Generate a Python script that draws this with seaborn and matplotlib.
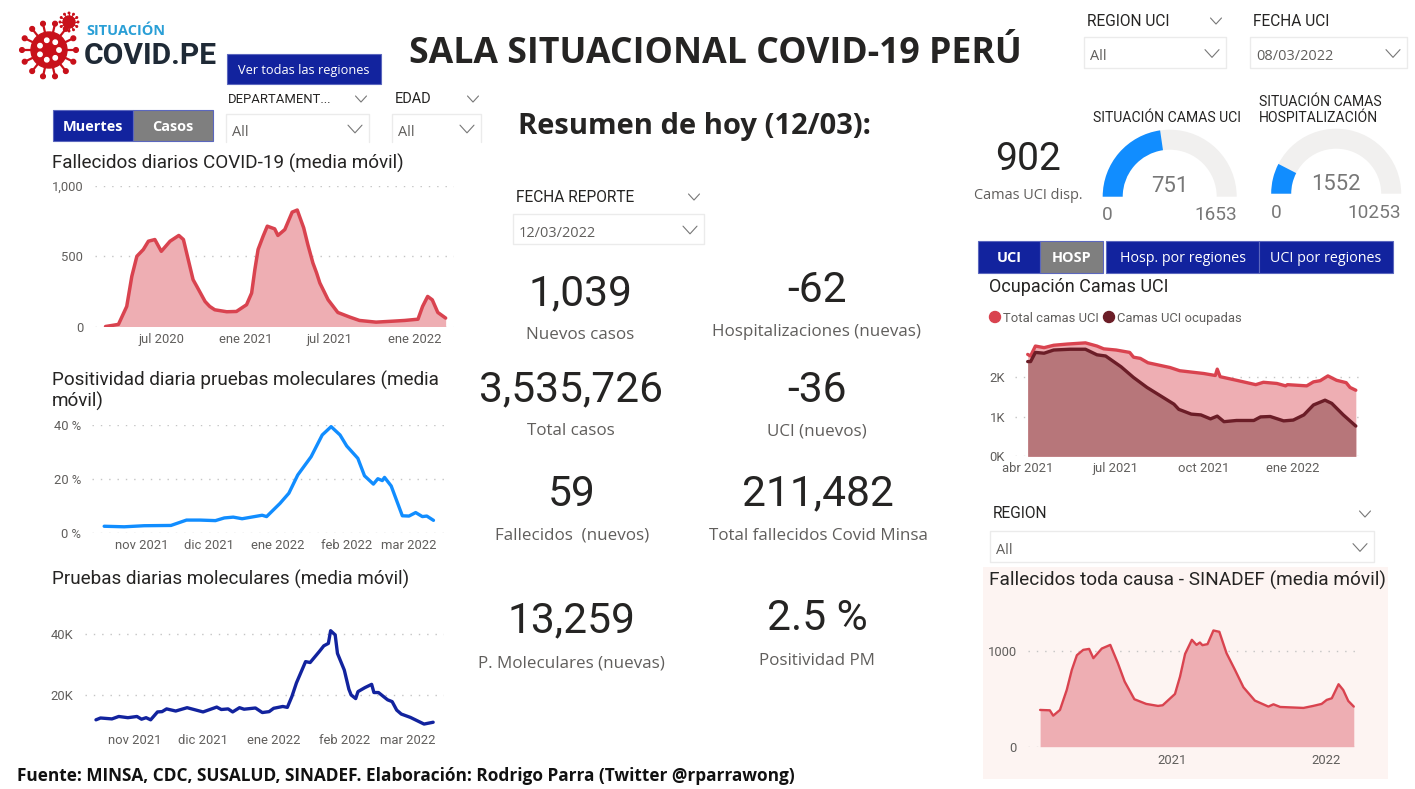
import matplotlib
matplotlib.use("Agg")
import matplotlib.pyplot as plt
from matplotlib.patches import Circle, Rectangle, Wedge
import numpy as np
import pandas as pd
import seaborn as sns

W, H = 1415, 789
NAVY = "#12239E"
GRAY_BTN = "#7F7F7F"
BLUE = "#118DFF"
RED = "#D9434F"
RED_FILL = "#EEAEB3"
DARK_RED = "#6B1D27"
INK = "#252423"
SOFT = "#605E5C"
DIN = "Roboto"
SEGOE = "Open Sans"
TEXT_DY = 2  # va="center" sits a little high against the reference

# Fallecidos diarios COVID-19
deaths_dates = ["2020-03-02", "2020-03-30", "2020-04-17", "2020-04-28", "2020-05-09", "2020-05-23", "2020-06-03",
                "2020-06-17", "2020-07-01", "2020-07-20", "2020-08-08", "2020-08-18", "2020-09-01", "2020-09-08",
                "2020-09-16", "2020-10-04", "2020-10-14", "2020-10-25", "2020-11-20", "2020-12-11", "2021-01-02",
                "2021-01-13", "2021-01-20", "2021-01-27", "2021-02-07", "2021-02-16", "2021-03-04", "2021-03-11",
                "2021-03-26", "2021-04-11", "2021-04-22", "2021-05-06", "2021-05-15", "2021-05-26", "2021-06-03",
                "2021-06-10", "2021-06-28", "2021-07-19", "2021-08-14", "2021-09-04", "2021-10-10", "2021-11-16",
                "2021-12-11", "2022-01-09", "2022-01-19", "2022-01-30", "2022-02-09", "2022-02-21", "2022-03-10"]
deaths_values = [0, 15, 143, 357, 500, 548, 607, 619, 535, 607, 648, 619, 428, 333, 286, 178, 143, 119, 105, 107,
                 155, 238, 405, 548, 643, 714, 695, 648, 690, 814, 829, 702, 583, 452, 381, 310, 190, 100, 67, 43,
                 31, 38, 43, 52, 143, 214, 190, 100, 60]

# Positividad diaria pruebas moleculares
pos_dates = ["2021-10-15", "2021-10-24", "2021-11-02", "2021-11-14", "2021-11-21", "2021-11-27", "2021-12-04",
             "2021-12-08", "2021-12-12", "2021-12-16", "2021-12-25", "2021-12-27", "2022-01-02", "2022-01-06",
             "2022-01-10", "2022-01-16", "2022-01-21", "2022-01-25", "2022-01-29", "2022-02-01", "2022-02-06",
             "2022-02-09", "2022-02-13", "2022-02-15", "2022-02-17", "2022-02-18", "2022-02-21", "2022-02-26",
             "2022-03-01", "2022-03-04", "2022-03-07", "2022-03-09", "2022-03-12"]
pos_values = [2.4, 2.2, 2.6, 2.7, 4.7, 4.7, 4.5, 5.5, 5.8, 5.2, 6.5, 6.0, 10.9, 14.7, 21.5, 28.3, 36.4, 39.5, 36.4,
              32.3, 27.7, 21.2, 18.1, 20.1, 19.4, 20.6, 17.4, 6.3, 6.2, 7.5, 6.0, 6.2, 4.6]

# Pruebas diarias moleculares, en miles
tests_dates = ["2021-10-15", "2021-10-17", "2021-10-22", "2021-10-25", "2021-10-29", "2021-11-02", "2021-11-04",
               "2021-11-06", "2021-11-08", "2021-11-11", "2021-11-13", "2021-11-15", "2021-11-19", "2021-11-24",
               "2021-12-01", "2021-12-07", "2021-12-09", "2021-12-12", "2021-12-14", "2021-12-17", "2021-12-19",
               "2021-12-24", "2021-12-27", "2021-12-30", "2022-01-01", "2022-01-05", "2022-01-07", "2022-01-09",
               "2022-01-11", "2022-01-15", "2022-01-17", "2022-01-21", "2022-01-23", "2022-01-25", "2022-01-26",
               "2022-01-28", "2022-01-29", "2022-02-01", "2022-02-03", "2022-02-04", "2022-02-06", "2022-02-07",
               "2022-02-10", "2022-02-13", "2022-02-14", "2022-02-16", "2022-02-20", "2022-02-22", "2022-02-24",
               "2022-02-26", "2022-03-02", "2022-03-05", "2022-03-08", "2022-03-12"]
tests_values = [11.8, 12.4, 12.1, 12.9, 12.5, 12.9, 12.0, 12.5, 11.8, 14.4, 14.5, 15.4, 14.7, 15.8, 14.4, 16.0, 15.2,
                15.4, 14.4, 15.8, 15.3, 15.7, 14.2, 14.5, 15.6, 16.2, 15.9, 19.5, 24.0, 31.0, 30.7, 34.3, 36.2, 37.0,
                41.2, 39.8, 33.7, 28.2, 21.9, 20.0, 18.8, 21.1, 22.4, 23.5, 20.8, 20.8, 18.4, 17.8, 15.0, 13.7, 12.6,
                11.5, 10.4, 11.0]

# Ocupacion camas UCI, en miles
uci_total_dates = ["2021-04-01", "2021-04-04", "2021-04-09", "2021-04-18", "2021-04-28", "2021-05-12", "2021-05-31",
                   "2021-06-12", "2021-06-19", "2021-07-02", "2021-07-16", "2021-07-20", "2021-07-27", "2021-08-04",
                   "2021-08-27", "2021-09-06", "2021-10-01", "2021-10-13", "2021-10-15", "2021-10-18", "2021-11-04",
                   "2021-11-24", "2021-12-02", "2021-12-16", "2021-12-25", "2021-12-27", "2022-01-16", "2022-01-23",
                   "2022-01-30", "2022-02-07", "2022-02-16", "2022-02-26", "2022-03-02", "2022-03-08"]
uci_total_values = [2.56, 2.52, 2.77, 2.73, 2.79, 2.82, 2.85, 2.77, 2.70, 2.67, 2.61, 2.49, 2.46, 2.35, 2.23, 2.15,
                    2.08, 2.03, 2.19, 2.00, 1.91, 1.80, 1.86, 1.83, 1.77, 1.80, 1.77, 1.87, 1.90, 2.02, 1.91, 1.85,
                    1.73, 1.66]
uci_used_dates = ["2021-04-01", "2021-04-04", "2021-04-09", "2021-04-18", "2021-04-28", "2021-05-15", "2021-05-31",
                  "2021-06-12", "2021-06-21", "2021-07-07", "2021-07-20", "2021-08-03", "2021-08-17", "2021-08-31",
                  "2021-09-05", "2021-09-18", "2021-09-28", "2021-10-08", "2021-10-15", "2021-10-22", "2021-11-04",
                  "2021-11-22", "2021-11-29", "2021-12-09", "2021-12-23", "2022-01-02", "2022-01-13", "2022-01-23",
                  "2022-02-04", "2022-02-11", "2022-02-23", "2022-03-08"]
uci_used_values = [2.38, 2.38, 2.61, 2.59, 2.67, 2.69, 2.69, 2.55, 2.52, 2.25, 1.98, 1.73, 1.52, 1.31, 1.18, 1.06,
                   1.04, 0.94, 1.01, 0.87, 0.90, 0.90, 0.99, 1.00, 0.89, 0.91, 1.04, 1.29, 1.41, 1.33, 1.04, 0.76]

# Fallecidos toda causa - SINADEF
sinadef_dates = ["2020-02-24", "2020-03-18", "2020-03-26", "2020-04-11", "2020-04-27", "2020-05-09", "2020-05-21",
                 "2020-06-05", "2020-06-19", "2020-06-29", "2020-07-19", "2020-08-08", "2020-08-26", "2020-09-11",
                 "2020-10-04", "2020-11-01", "2020-11-29", "2020-12-10", "2021-01-08", "2021-01-20", "2021-02-01",
                 "2021-02-17", "2021-02-28", "2021-03-08", "2021-03-14", "2021-03-26", "2021-04-09", "2021-04-23",
                 "2021-05-10", "2021-05-30", "2021-06-19", "2021-07-16", "2021-08-17", "2021-08-29", "2021-09-14",
                 "2021-11-08", "2021-12-01", "2021-12-21", "2022-01-02", "2022-01-14", "2022-01-30", "2022-02-10",
                 "2022-02-22", "2022-03-07"]
sinadef_values = [385, 381, 325, 385, 594, 804, 958, 1014, 1024, 927, 1028, 1066, 874, 682, 497, 448, 427, 434, 552,
                  734, 972, 1119, 1066, 1091, 1063, 1074, 1217, 1203, 979, 804, 622, 483, 420, 444, 416, 406, 427,
                  448, 490, 507, 654, 594, 479, 420]

# Indicadores del centro: valor, etiqueta
kpi_values = ["1,039", "-62", "3,535,726", "-36", "59", "211,482", "13,259", "2.5 %"]
kpi_labels = ["Nuevos casos", "Hospitalizaciones (nuevas)", "Total casos", "UCI (nuevos)", "Fallecidos  (nuevos)",
              "Total fallecidos Covid Minsa", "P. Moleculares (nuevas)", "Positividad PM"]
kpi_x = [580, 817, 571, 817, 572, 818, 571, 817]
kpi_y = [292, 288, 388, 388, 492, 492, 619, 617]
kpi_label_y = [334, 331, 430, 430, 534, 535, 662, 660]

uci_gauge = (751, 1653)
hosp_gauge = (1552, 10253)


def chart_axes(fig, left, right, top, bottom, ylim, anchor0, anchor1):
    # anchors are (date, pixel) pairs
    ax = fig.add_axes([left / W, 1 - bottom / H, (right - left) / W, (bottom - top) / H], zorder=2)
    d0, p0 = pd.Timestamp(anchor0[0]), anchor0[1]
    d1, p1 = pd.Timestamp(anchor1[0]), anchor1[1]
    per_px = (d1 - d0) / (p1 - p0)
    ax.set_xlim(d0 + (left - p0) * per_px, d0 + (right - p0) * per_px)
    ax.set_ylim(*ylim)
    ax.set_facecolor("none")
    sns.despine(ax=ax, left=True, bottom=True)
    return ax


def finish_axes(ax, xticks, xlabels, yticks, ylabels, font_px=13, ypad=12, xpad=6):
    ax.set_xticks(pd.to_datetime(xticks), xlabels)
    ax.set_yticks(yticks, ylabels)
    ax.set_xlabel("")
    ax.set_ylabel("")
    ax.tick_params(axis="both", length=0, labelsize=font_px * 0.72, labelcolor=SOFT)
    ax.tick_params(axis="y", pad=ypad * 0.72)
    ax.tick_params(axis="x", pad=xpad * 0.72)
    for lab in ax.get_xticklabels() + ax.get_yticklabels():
        lab.set_family(DIN)
    ax.grid(False)
    ax.grid(axis="y", color="#C4C4C4", linestyle=(0, (1, 5)), linewidth=1)
    ax.set_axisbelow(True)


def main():
    sns.set_theme(style="white")
    fig = plt.figure(figsize=(W / 100, H / 100), dpi=100, facecolor="white")
    ov = fig.add_axes([0, 0, 1, 1], zorder=1)
    ov.set_xlim(0, W)
    ov.set_ylim(H, 0)
    ov.axis("off")

    def put(x, y, s, px, color=INK, ha="left", weight="normal", family=DIN, zorder=5):
        ov.text(x, y + TEXT_DY, s, fontsize=px * 0.72, color=color, ha=ha, va="center", fontweight=weight,
                family=family, zorder=zorder)

    def chevron(x, y, size=6):
        ov.plot([x - size, x, x + size], [y - size * 0.55, y + size * 0.55, y - size * 0.55],
                color="#777777", lw=0.8, solid_capstyle="round")

    def button(x0, x1, y0, y1, label, fill=NAVY, weight="normal", px=14, family=SEGOE):
        ov.add_patch(Rectangle((x0, y0), x1 - x0, y1 - y0, facecolor=fill, edgecolor="#5B67BE", lw=0.8))
        put((x0 + x1) / 2, (y0 + y1) / 2 - 0.5, label, px, color="white", ha="center", weight=weight, family=family)

    def dropdown(x0, x1, y0, y1, label, label_y, value, label_x=None, head_chevron=None, cut=False, label_px=15.5):
        color = "#EBEBEB"
        if cut:
            ov.plot([x0, x0, x1, x1], [y1, y0, y0, y1], color=color, lw=1)
        else:
            ov.add_patch(Rectangle((x0, y0), x1 - x0, y1 - y0, facecolor="white", edgecolor=color, lw=1))
        put(label_x if label_x else x0 + 3, label_y - 1, label, label_px, color=INK)
        put(x0 + 6, (y0 + y1) / 2 + 2, value, 14.5, color=SOFT, family=SEGOE)
        chevron(x1 - 14, (y0 + y1) / 2 + 1, 7)
        if head_chevron:
            chevron(head_chevron, label_y + 1, 5.5)

    # logo
    for cx, cy, r, n in [(49, 50, 18, 14), (69, 22, 6, 12)]:
        for a in np.linspace(0, 2 * np.pi, n, endpoint=False):
            ov.plot([cx + r * np.cos(a), cx + r * 1.45 * np.cos(a)], [cy + r * np.sin(a), cy + r * 1.45 * np.sin(a)],
                    color="#C8101A", lw=1.6 if r > 10 else 0.8)
            ov.add_patch(Circle((cx + r * 1.5 * np.cos(a), cy + r * 1.5 * np.sin(a)), r * 0.13, color="#C8101A"))
        ov.add_patch(Circle((cx, cy), r, color="#C8101A"))
    for a in np.linspace(0, 2 * np.pi, 7, endpoint=False):
        ov.add_patch(Circle((49 + 10 * np.cos(a), 50 + 10 * np.sin(a)), 2.2, color="white"))
    put(86, 29, "SITUACIÓN", 14.5, color="#2A9FD6", weight="bold", family="Open Sans")
    put(84, 54, "COVID.PE", 30, color="#1F2A36", weight="bold", family="Roboto")

    put(715, 52, "SALA SITUACIONAL COVID-19 PERÚ", 35.6, color=INK, ha="center", weight="bold", family=SEGOE)
    put(518, 124, "Resumen de hoy (12/03):", 29.1, color=INK, weight="bold", family=SEGOE)
    put(17, 774, "Fuente: MINSA, CDC, SUSALUD, SINADEF. Elaboración: Rodrigo Parra (Twitter @rparrawong)", 17.2,
        color="#111111", weight="bold", family=SEGOE)

    # buttons
    button(227, 381, 54, 84, "Ver todas las regiones", px=12.7)
    button(53, 133, 110, 141, "Muertes", weight="bold", px=14.5)
    button(133, 213, 110, 141, "Casos", fill=GRAY_BTN, weight="bold", px=14.5)
    button(978, 1040, 241, 273, "UCI", weight="bold", px=14.5)
    button(1040, 1103, 241, 273, "HOSP", fill=GRAY_BTN, weight="bold", px=14.5)
    button(1106, 1259, 241, 273, "Hosp. por regiones", px=14.3)
    button(1259, 1393, 241, 273, "UCI por regiones", px=14.3)

    # slicers
    dropdown(226, 369, 114, 142, "DEPARTAMENT...", 98, "All", label_x=228, head_chevron=361, cut=True, label_px=13)
    dropdown(392, 481, 114, 142, "EDAD", 98, "All", label_x=395, head_chevron=473, cut=True, label_px=14.5)
    dropdown(1084, 1226, 37, 68, "REGION UCI", 20, "All", label_x=1087, head_chevron=1216)
    dropdown(1250, 1407, 37, 68, "FECHA UCI", 20, "08/03/2022", label_x=1253)
    dropdown(513, 704, 214, 244, "FECHA REPORTE", 196, "12/03/2022", label_x=516, head_chevron=694)
    dropdown(990, 1374, 531, 562, "REGION", 513, "All", label_x=993, head_chevron=1365)

    # KPI cards
    for x, y, ly, val, lab in zip(kpi_x, kpi_y, kpi_label_y, kpi_values, kpi_labels):
        put(x, y, val, 42.5, ha="center")
        put(x, ly - 1, lab, 17, color=SOFT, ha="center", family=SEGOE)
    put(1028, 157, "902", 39, ha="center")
    put(1028, 193, "Camas UCI disp.", 14.5, color=SOFT, ha="center", family=SEGOE)

    # gauges
    put(1093, 116, "SITUACIÓN CAMAS UCI", 14)
    put(1259, 100, "SITUACIÓN CAMAS", 14)
    put(1259, 116, "HOSPITALIZACIÓN", 14)
    for (cx, cy, ro, ri), (val, top), vy, ly, lx0, lx1 in [
        ((1169.7, 196.7, 67, 47), uci_gauge, 184, 213, 1107, 1237),
        ((1336.2, 193.7, 65, 45), hosp_gauge, 182, 211, 1276, 1401),
    ]:
        end = 180 + 180 * val / top
        ov.add_patch(Wedge((cx, cy), ro, 180, 360, width=ro - ri, facecolor="#F1F0EF", edgecolor="none"))
        ov.add_patch(Wedge((cx, cy), ro, 180, end, width=ro - ri, facecolor=BLUE, edgecolor="none"))
        put(cx, vy, str(val), 22, color="#777777", ha="center")
        put(lx0, ly, "0", 19, color="#777777", ha="center")
        put(lx1, ly, str(top), 19, color="#777777", ha="right")

    # chart titles
    put(52, 161, "Fallecidos diarios COVID-19 (media móvil)", 18.9)
    put(52, 378, "Positividad diaria pruebas moleculares (media", 18.9)
    put(52, 399, "móvil)", 18.9)
    put(52, 577, "Pruebas diarias moleculares (media móvil)", 18.9)
    put(989, 285, "Ocupación Camas UCI", 18)
    ov.add_patch(Rectangle((983, 567), 405, 212, facecolor="#FDF4F2", edgecolor="none", zorder=0))
    put(989, 578, "Fallecidos toda causa - SINADEF (media móvil)", 19)

    # legend UCI
    ov.add_patch(Circle((995, 317), 5.5, color=RED))
    put(1003, 316, "Total camas UCI", 13, color=SOFT)
    ov.add_patch(Circle((1109, 317), 5.5, color=DARK_RED))
    put(1117, 316, "Camas UCI ocupadas", 13, color=SOFT)

    # Fallecidos diarios
    ax = chart_axes(fig, 95, 454, 186, 326.5, (0, 1000), ("2020-07-01", 161.3), ("2022-01-01", 414.3))
    x = pd.to_datetime(deaths_dates)
    ax.fill_between(x, deaths_values, 0, color=RED_FILL, lw=0)
    sns.lineplot(x=x, y=deaths_values, ax=ax, color=RED, linewidth=2.5)
    finish_axes(ax, ["2020-07-01", "2021-01-01", "2021-07-01", "2022-01-01"],
                ["jul 2020", "ene 2021", "jul 2021", "ene 2022"], [0, 500, 1000], ["0", "500", "1,000"])

    # Positividad
    ax = chart_axes(fig, 92, 444, 425.3, 532.7, (0, 40), ("2021-11-01", 142), ("2022-02-01", 346.7))
    sns.lineplot(x=pd.to_datetime(pos_dates), y=pos_values, ax=ax, color=BLUE, linewidth=2.4)
    for line in ax.lines:
        line.set_clip_on(False)
    finish_axes(ax, ["2021-11-01", "2021-12-01", "2022-01-01", "2022-02-01", "2022-03-01"],
                ["nov 2021", "dic 2021", "ene 2022", "feb 2022", "mar 2022"], [0, 20, 40], ["0 %", "20 %", "40 %"],
                ypad=11)

    # Pruebas
    ax = chart_axes(fig, 85, 444, 622.2, 728, (9.1, 44), ("2021-11-01", 134.7), ("2022-02-01", 344.3))
    sns.lineplot(x=pd.to_datetime(tests_dates), y=tests_values, ax=ax, color=NAVY, linewidth=2.4)
    finish_axes(ax, ["2021-11-01", "2021-12-01", "2022-01-01", "2022-02-01", "2022-03-01"],
                ["nov 2021", "dic 2021", "ene 2022", "feb 2022", "mar 2022"], [20, 40], ["20K", "40K"], ypad=12)

    # Ocupacion UCI
    ax = chart_axes(fig, 1015, 1360.7, 336.9, 456.3, (0, 3), ("2021-04-01", 1027.7), ("2022-01-01", 1292.3))
    total_x = pd.to_datetime(uci_total_dates)
    used_x = pd.to_datetime(uci_used_dates)
    ax.fill_between(total_x, uci_total_values, 0, color=RED_FILL, lw=0)
    ax.fill_between(used_x, uci_used_values, 0, color="#B7767A", lw=0)
    sns.lineplot(x=total_x, y=uci_total_values, ax=ax, color=RED, linewidth=2.4)
    sns.lineplot(x=used_x, y=uci_used_values, ax=ax, color=DARK_RED, linewidth=2.4)
    finish_axes(ax, ["2021-04-01", "2021-07-01", "2021-10-01", "2022-01-01"],
                ["abr 2021", "jul 2021", "oct 2021", "ene 2022"], [0, 1, 2], ["0K", "1K", "2K"], ypad=10, xpad=6)

    # SINADEF
    ax = chart_axes(fig, 1028, 1360.7, 613, 746.7, (0, 1400), ("2021-01-01", 1172), ("2022-01-01", 1326.3))
    x = pd.to_datetime(sinadef_dates)
    ax.fill_between(x, sinadef_values, 0, color=RED_FILL, lw=0)
    sns.lineplot(x=x, y=sinadef_values, ax=ax, color=RED, linewidth=1.7)
    finish_axes(ax, ["2021-01-01", "2022-01-01"], ["2021", "2022"], [0, 1000], ["0", "1000"], ypad=11, xpad=7)

    fig.savefig("out.png", dpi=100, facecolor="white")
    plt.close(fig)


if __name__ == "__main__":
    main()
